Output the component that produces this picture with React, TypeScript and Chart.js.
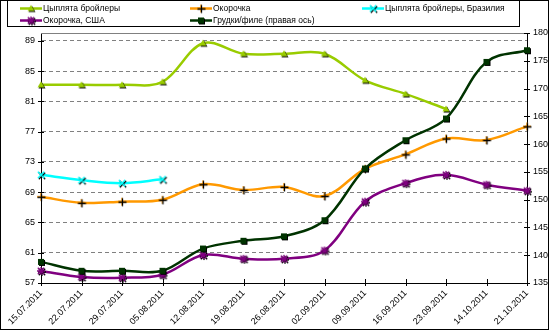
import React, { useEffect, useRef } from "react";
import { Chart, registerables } from "chart.js";

Chart.register(...registerables);

const categories = [
  "15.07.2011", "22.07.2011", "29.07.2011", "05.08.2011", "12.08.2011", "19.08.2011",
  "26.08.2011", "02.09.2011", "09.09.2011", "16.09.2011", "23.09.2011", "14.10.2011", "21.10.2011",
];
const broilers = [83.2, 83.2, 83.2, 83.6, 88.7, 87.3, 87.3, 87.3, 83.8, 82.0, 80.0, null, null];
const legs = [68.4, 67.6, 67.75, 68.0, 70.05, 69.3, 69.7, 68.5, 72.1, 74.0, 76.1, 75.9, 77.7];
const broilersBrazil = [71.3, 70.6, 70.2, 70.7, null, null, null, null, null, null, null, null, null];
const legsUSA = [58.6, 57.8, 57.7, 58.1, 60.7, 60.2, 60.2, 61.3, 67.75, 70.2, 71.3, 70.0, 69.2];
const breastFillet = [138.8, 137.2, 137.2, 137.2, 141.2, 142.6, 143.4, 146.3, 155.6, 160.7, 164.6, 174.8, 176.9];
const leftTicks = [57, 61, 65, 69, 73, 77, 81, 85, 89];
const rightTicks = [135, 140, 145, 150, 155, 160, 165, 170, 175, 180];

const FONT = '"Liberation Sans", Arial, sans-serif';

type Kind = "triangle" | "square" | "plus" | "x" | "star";

function makeMarker(kind: Kind, color: string): HTMLCanvasElement {
  const c = document.createElement("canvas");
  c.width = 12;
  c.height = 12;
  const g = c.getContext("2d")!;
  const draw = (col: string, dx: number, dy: number) => {
    g.save();
    g.translate(dx, dy);
    g.fillStyle = col;
    g.strokeStyle = col;
    g.lineWidth = 1.3;
    if (kind === "triangle") {
      g.beginPath();
      g.moveTo(6, 2.5);
      g.lineTo(9.5, 8.5);
      g.lineTo(2.5, 8.5);
      g.closePath();
      g.fill();
    } else if (kind === "square") {
      g.fillRect(3, 3, 6, 6);
    } else {
      g.beginPath();
      if (kind === "plus" || kind === "star") {
        g.moveTo(2, 6);
        g.lineTo(10, 6);
        g.moveTo(6, 2);
        g.lineTo(6, 10);
      }
      if (kind === "x" || kind === "star") {
        g.moveTo(2.8, 2.8);
        g.lineTo(9.2, 9.2);
        g.moveTo(9.2, 2.8);
        g.lineTo(2.8, 9.2);
      }
      g.stroke();
    }
    g.restore();
  };
  if (kind === "plus") {
    draw(color, 0, 0);
    draw("#000", 0.5, 0.5);
  } else {
    draw("#000", 1, 1);
    draw(color, 0, 0);
  }
  return c;
}

export default function App() {
  const ref = useRef<HTMLCanvasElement | null>(null);

  useEffect(() => {
    if (!ref.current) return;
    Chart.defaults.font.family = FONT;

    const series = [
      { label: "Цыплята бройлеры", data: broilers, color: "#99CC00", kind: "triangle" as Kind, axis: "y" },
      { label: "Окорочка", data: legs, color: "#FF9900", kind: "plus" as Kind, axis: "y" },
      { label: "Цыплята бройлеры, Бразилия", data: broilersBrazil, color: "#00FFFF", kind: "x" as Kind, axis: "y" },
      { label: "Окорочка, США", data: legsUSA, color: "#800080", kind: "star" as Kind, axis: "y" },
      { label: "Грудки/филе (правая ось)", data: breastFillet, color: "#003300", kind: "square" as Kind, axis: "y1" },
    ].map((s) => ({ ...s, marker: makeMarker(s.kind, s.color) }));

    const legendPos = [
      { x: 20, y: 8 },
      { x: 190, y: 8 },
      { x: 362, y: 8 },
      { x: 20, y: 20 },
      { x: 190, y: 20 },
    ];

    const decor = {
      id: "decor",
      afterDraw(chart: any) {
        const ctx = chart.ctx as CanvasRenderingContext2D;
        const a = chart.chartArea;
        ctx.save();
        ctx.strokeStyle = "#808080";
        ctx.lineWidth = 1;
        ctx.beginPath();
        ctx.moveTo(a.left, Math.round(a.top) + 0.5);
        ctx.lineTo(a.right, Math.round(a.top) + 0.5);
        ctx.stroke();
        ctx.strokeStyle = "#000";
        ctx.beginPath();
        const yl = chart.scales.y;
        for (const t of yl.ticks) {
          const py = Math.round(yl.getPixelForValue(t.value)) + 0.5;
          ctx.moveTo(a.left - 3, py);
          ctx.lineTo(a.left + 3, py);
        }
        const yr = chart.scales.y1;
        for (const t of yr.ticks) {
          const py = Math.round(yr.getPixelForValue(t.value)) + 0.5;
          ctx.moveTo(a.right - 3, py);
          ctx.lineTo(a.right + 3, py);
        }
        const xs = chart.scales.x;
        for (let i = 0; i < categories.length; i++) {
          const px = Math.round(xs.getPixelForValue(i)) + 0.5;
          ctx.moveTo(px, a.bottom - 4);
          ctx.lineTo(px, a.bottom + 3);
        }
        ctx.stroke();
        ctx.strokeRect(0.5, 0.5, 548, 329);
        ctx.strokeRect(7.5, 0.5, 512, 26);
        ctx.font = "8.5px " + FONT;
        ctx.textBaseline = "middle";
        ctx.textAlign = "left";
        series.forEach((s, i) => {
          const p = legendPos[i];
          ctx.strokeStyle = s.color;
          ctx.lineWidth = 2.5;
          ctx.beginPath();
          ctx.moveTo(p.x, p.y + 0.5);
          ctx.lineTo(p.x + 22, p.y + 0.5);
          ctx.stroke();
          ctx.drawImage(s.marker, p.x + 11 - 6, p.y - 5.5);
          ctx.fillStyle = "#000";
          ctx.fillText(s.label, p.x + 23, p.y + 1);
        });
        ctx.restore();
      },
    };

    const chart = new Chart(ref.current, {
      type: "line",
      data: {
        labels: categories,
        datasets: series.map((s, i) => ({
          label: s.label,
          data: s.data as any,
          yAxisID: s.axis,
          borderColor: s.color,
          backgroundColor: s.color,
          borderWidth: 2.5,
          tension: 0.35,
          pointStyle: s.marker as any,
          pointRadius: 5,
          fill: false,
          spanGaps: false,
          order: i === 4 ? 0 : i + 1,
        })),
      },
      options: {
        animation: false,
        responsive: false,
        maintainAspectRatio: false,
        layout: { padding: { top: 33, left: 0, right: 0, bottom: 0 } },
        plugins: { legend: { display: false }, tooltip: { enabled: false } },
        scales: {
          x: {
            type: "category",
            offset: false,
            grid: { display: true, drawOnChartArea: false, drawTicks: false },
            border: { display: true, color: "#000", width: 1 },
            ticks: {
              autoSkip: false,
              maxRotation: 45,
              minRotation: 45,
              padding: 5,
              color: "#000",
              font: { size: 9 },
            },
            afterFit(scale: any) {
              scale.height = 47;
            },
          },
          y: {
            type: "linear",
            position: "left",
            min: 57,
            max: 90.05,
            afterBuildTicks(scale: any) {
              scale.ticks = leftTicks.map((v) => ({ value: v }));
            },
            grid: {
              drawTicks: false,
              color: (c: any) => (c.tick && c.tick.value === 57 ? "rgba(0,0,0,0)" : "#808080"),
              lineWidth: 1,
            },
            border: { display: true, color: "#000", width: 1, dash: [4, 3] },
            ticks: { padding: 6, color: "#000", font: { size: 9 } },
            afterFit(scale: any) {
              scale.width = 41;
            },
          },
          y1: {
            type: "linear",
            position: "right",
            min: 135,
            max: 180,
            afterBuildTicks(scale: any) {
              scale.ticks = rightTicks.map((v) => ({ value: v }));
            },
            grid: { drawOnChartArea: false, drawTicks: false },
            border: { display: true, color: "#000", width: 1 },
            ticks: { padding: 6, color: "#000", font: { size: 9 } },
            afterFit(scale: any) {
              scale.width = 22;
            },
          },
        },
      },
      plugins: [decor],
    });

    return () => chart.destroy();
  }, []);

  return (
    <div style={{ position: "absolute", left: 0, top: 0, width: 549, height: 330, background: "#fff" }}>
      <canvas ref={ref} width={549} height={330} style={{ display: "block", width: 549, height: 330 }} />
    </div>
  );
}
